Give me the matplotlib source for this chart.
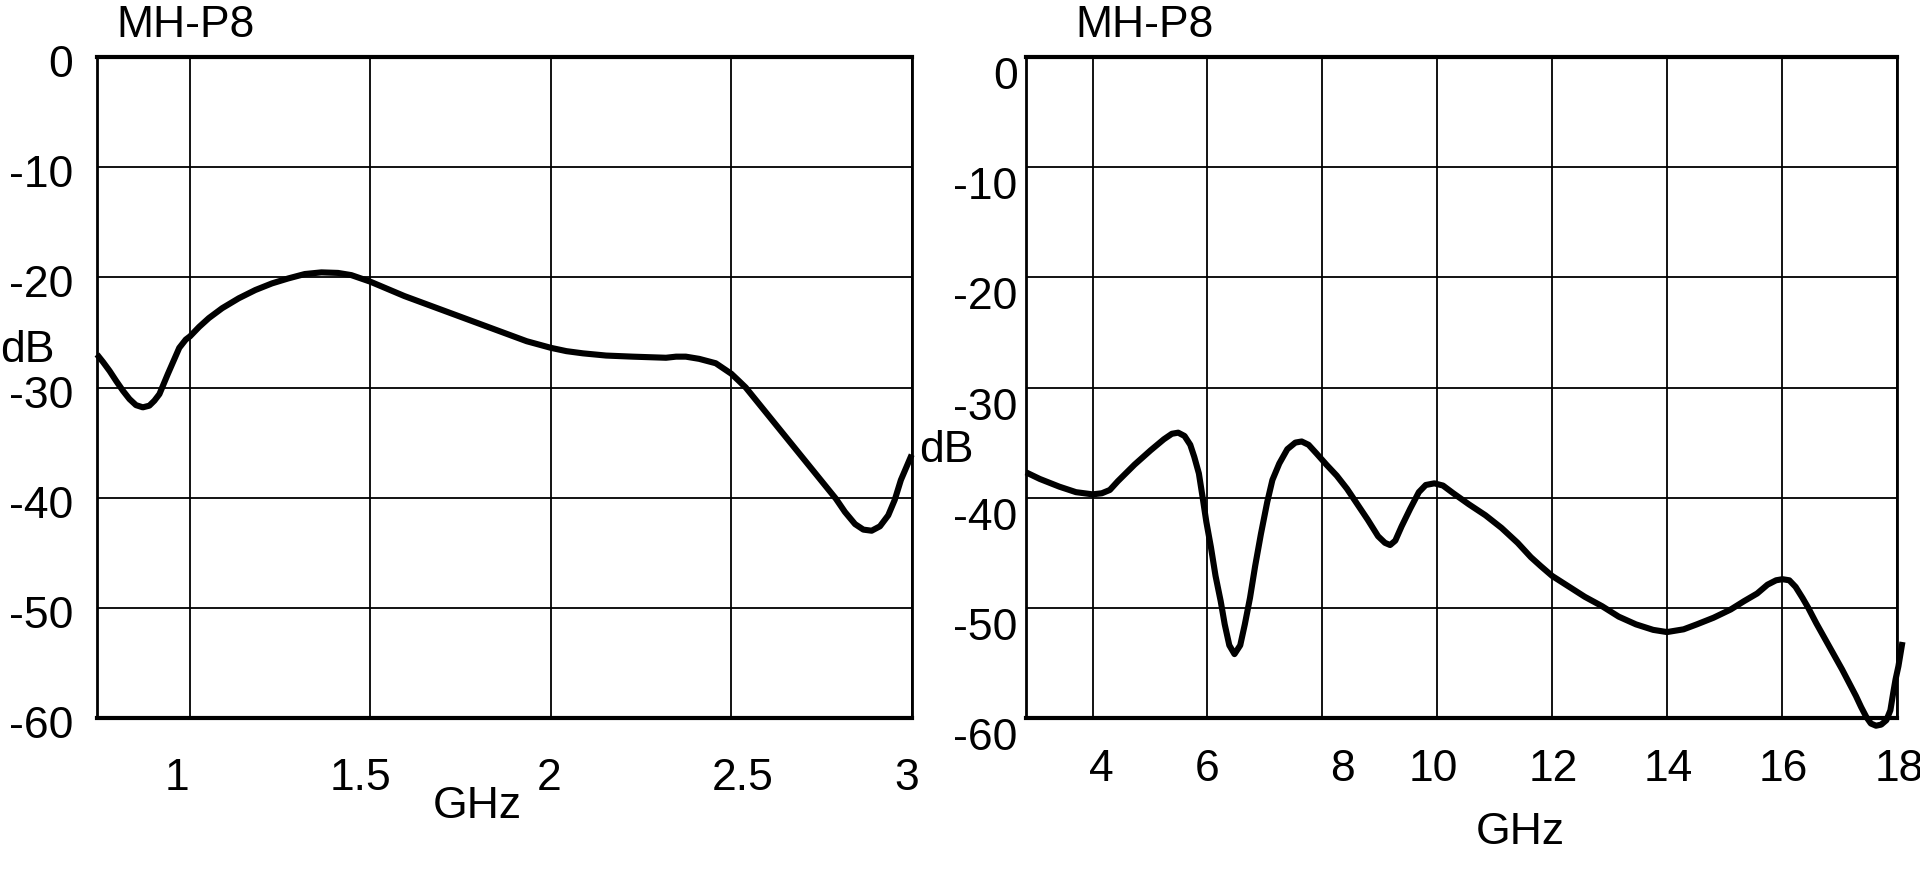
"""Two attenuation curves for MH-P8 (low band and high band), dB vs GHz."""

import matplotlib
matplotlib.use("Agg")
import matplotlib.pyplot as plt
import matplotlib.transforms as mtransforms

plt.rcParams["font.family"] = ["Liberation Sans", "DejaVu Sans"]

TITLE = "MH-P8"

# low band (0.74 - 3 GHz)
lo_ghz = [0.742, 0.759, 0.777, 0.795, 0.814, 0.832, 0.850, 0.869, 0.887, 0.901,
          0.915, 0.938, 0.970, 0.988, 1.0, 1.025, 1.052, 1.089, 1.135, 1.181,
          1.227, 1.272, 1.318, 1.364, 1.41, 1.447, 1.5, 1.594, 1.933, 2.0,
          2.043, 2.089, 2.153, 2.227, 2.319, 2.347, 2.374, 2.411, 2.457, 2.5,
          2.521, 2.54, 2.79, 2.815, 2.843, 2.866, 2.889, 2.912, 2.935, 2.953,
          2.97, 3.0]
lo_db = [-27.0, -27.7, -28.5, -29.4, -30.3, -31.05, -31.6, -31.8, -31.65, -31.2,
         -30.6, -28.8, -26.4, -25.65, -25.35, -24.5, -23.7, -22.8, -21.9, -21.15,
         -20.55, -20.1, -19.7, -19.55, -19.6, -19.8, -20.4, -21.7, -25.8, -26.4,
         -26.7, -26.9, -27.1, -27.2, -27.3, -27.2, -27.2, -27.4, -27.8, -28.75,
         -29.4, -30.0, -40.1, -41.3, -42.4, -42.9, -43.0, -42.6, -41.6, -40.2,
         -38.4, -36.1]
lo_ticks = [1, 1.5, 2, 2.5, 3]
lo_labels = ["1", "1.5", "2", "2.5", "3"]

# high band (2.8 - 18 GHz)
hi_ghz = [2.84, 3.08, 3.42, 3.71, 4.0, 4.16, 4.30, 4.44, 4.73, 5.01,
          5.24, 5.38, 5.49, 5.60, 5.70, 5.77, 5.85, 5.91, 5.98, 6.06,
          6.14, 6.23, 6.30, 6.38, 6.47, 6.57, 6.65, 6.74, 6.83, 6.93,
          7.04, 7.13, 7.25, 7.39, 7.53, 7.64, 7.76, 7.90, 8.07, 8.25,
          8.43, 8.61, 8.79, 8.97, 9.09, 9.18, 9.27, 9.38, 9.53, 9.68,
          9.80, 9.95, 10.1, 10.28, 10.55, 10.84, 11.12, 11.4, 11.63, 11.8,
          12.0, 12.27, 12.57, 12.87, 13.16, 13.46, 13.76, 14.0, 14.29, 14.52,
          14.81, 15.11, 15.34, 15.57, 15.75, 15.9, 16.01, 16.13, 16.24, 16.36,
          16.46, 16.6, 16.75, 16.9, 17.05, 17.17, 17.29, 17.38, 17.47, 17.55,
          17.64, 17.73, 17.82, 17.89, 17.94, 17.98, 18.03, 18.1]
hi_db = [-37.7, -38.3, -39.0, -39.5, -39.7, -39.6, -39.3, -38.5, -37.0, -35.7,
         -34.7, -34.2, -34.1, -34.4, -35.2, -36.3, -37.8, -39.8, -42.2, -44.5,
         -47.1, -49.4, -51.5, -53.4, -54.2, -53.4, -51.5, -49.1, -46.2, -43.3,
         -40.4, -38.4, -36.9, -35.6, -35.0, -34.9, -35.2, -36.0, -37.0, -38.0,
         -39.2, -40.6, -42.0, -43.5, -44.1, -44.3, -43.9, -42.6, -41.0, -39.5,
         -38.85, -38.7, -38.9, -39.6, -40.6, -41.6, -42.75, -44.1, -45.4, -46.2,
         -47.1, -48.0, -49.0, -49.85, -50.8, -51.5, -52.0, -52.2, -51.95, -51.5,
         -50.9, -50.15, -49.4, -48.7, -47.9, -47.5, -47.4, -47.5, -48.1, -49.1,
         -50.0, -51.4, -52.8, -54.2, -55.6, -56.8, -58.0, -59.0, -59.9, -60.5,
         -60.7, -60.6, -60.2, -59.3, -57.7, -56.5, -55.3, -53.1]
hi_ticks = [4, 6, 8, 10, 12, 14, 16, 18]
hi_labels = ["4", "6", "8", "10", "12", "14", "16", "18"]

db_ticks = [0, -10, -20, -30, -40, -50, -60]
db_labels = ["0", "-10", "-20", "-30", "-40", "-50", "-60"]

W, H = 1920, 877
FS = 32
fig = plt.figure(figsize=(W / 100, H / 100), dpi=100)


def px_axes(x0, y0, x1, y1):
    return fig.add_axes([x0 / W, 1 - y1 / H, (x1 - x0) / W, (y1 - y0) / H])


def shift(labels, dxs, dy):
    for lab, dx in zip(labels, dxs):
        off = mtransforms.ScaledTranslation(dx / 100, -dy / 100, fig.dpi_scale_trans)
        lab.set_transform(lab.get_transform() + off)


def style(ax, xlim, ticks, labels, xpad, ypad):
    ax.set_xlim(*xlim)
    ax.set_ylim(-60, 0)
    ax.set_xticks(ticks, labels)
    ax.set_yticks(db_ticks, db_labels)
    ax.grid(True, color="black", linewidth=1.3)
    ax.set_axisbelow(True)
    ax.tick_params(axis="x", length=0, pad=xpad, labelsize=FS)
    ax.tick_params(axis="y", length=0, pad=ypad, labelsize=FS)
    for side in ("top", "bottom"):
        ax.spines[side].set_linewidth(3)
    for side in ("left", "right"):
        ax.spines[side].set_linewidth(2)


ax1 = px_axes(97, 57, 911.7, 718)
style(ax1, (0.742, 3.0), lo_ticks, lo_labels, 29, 17)
ax1.plot(lo_ghz, lo_db, color="black", linewidth=4.4,
         solid_joinstyle="round", solid_capstyle="butt", clip_on=False)
shift(ax1.get_xticklabels(), [-13, -10, -2, 11, -5], 0)
shift(ax1.get_yticklabels(), [0] * 7, 4)

ax2 = px_axes(1026, 57, 1896.7, 718)
style(ax2, (2.84, 18.0), hi_ticks, hi_labels, 22, 6)
ax2.plot(hi_ghz, hi_db, color="black", linewidth=4.4,
         solid_joinstyle="round", solid_capstyle="butt", clip_on=False)
shift(ax2.get_xticklabels(), [9, 0, 20, -4, 1, 1, 1, 3], 0)
shift(ax2.get_yticklabels(), [0] * 7, 16)


def ftext(x, y, s, **kw):
    fig.text(x / W, 1 - y / H, s, fontsize=FS, **kw)


ftext(116.7, 36.7, TITLE, ha="left", va="baseline")
ftext(1075, 36.7, TITLE, ha="left", va="baseline")
ftext(27.7, 351, "dB", ha="center", va="center")
ftext(946.5, 451, "dB", ha="center", va="center")
ftext(477.5, 806.5, "GHz", ha="center", va="center")
ftext(1520, 832.5, "GHz", ha="center", va="center")

fig.savefig("out.png", dpi=100)
